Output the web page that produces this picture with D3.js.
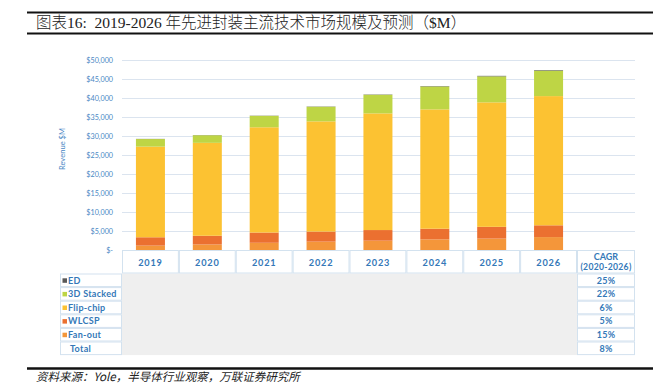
<!DOCTYPE html>
<html>
<head>
<meta charset="utf-8">
<script src="https://cdn.jsdelivr.net/npm/d3@7"></script>
<style>
body { margin: 0; background: #fff; }
svg { display: block; }
</style>
</head>
<body>
<div id="chart"></div>
<script>
// values ($M)
var years = ["2019", "2020", "2021", "2022", "2023", "2024", "2025", "2026"];
var seriesNames = ["ED", "3D Stacked", "Flip-chip", "WLCSP", "Fan-out"];
var fanOut   = [1150, 1450, 1900, 2200, 2450, 2800, 3000, 3400];
var wlcsp    = [2200, 2300, 2700, 2650, 2800, 2800, 3100, 3100];
var flipChip = [23850, 24450, 27700, 29000, 30700, 31400, 32750, 34000];
var stacked3d = [2000, 2000, 3000, 3850, 4900, 6050, 6850, 6700];
var ed       = [40, 45, 55, 65, 80, 100, 130, 150];
var cagr     = ["25%", "22%", "6%", "5%", "15%", "8%"];
var tickValues = [0, 5000, 10000, 15000, 20000, 25000, 30000, 35000, 40000, 45000, 50000];

var colors = {
  "ED": "#595959",
  "3D Stacked": "#bed545",
  "Flip-chip": "#fcc232",
  "WLCSP": "#eb7030",
  "Fan-out": "#f4963a"
};
var blue = "#3478b8";
var cellLine = "#d3e2ef";
var tf = "Lato, sans-serif";

var W = 653, H = 391;
var svg = d3.select("#chart").append("svg").attr("width", W).attr("height", H);

// title block
svg.append("line").attr("x1", 27).attr("x2", W).attr("y1", 12.5).attr("y2", 12.5)
  .attr("stroke", "#111").attr("stroke-width", 2);
svg.append("line").attr("x1", 27).attr("x2", W).attr("y1", 33.5).attr("y2", 33.5)
  .attr("stroke", "#111").attr("stroke-width", 2);
svg.append("text").attr("x", 36).attr("y", 28)
  .attr("font-family", "'Liberation Serif', 'Noto Sans CJK SC', serif")
  .attr("font-size", 15.5).attr("font-weight", 300).attr("fill", "#222")
  .attr("xml:space", "preserve")
  .text("图表16:  2019-2026 年先进封装主流技术市场规模及预测（$M）");

// table rows from the data
var rows = seriesNames.concat(["Total"]);

var table = years.map(function(y, i) {
  return { year: y, "Fan-out": fanOut[i], "WLCSP": wlcsp[i], "Flip-chip": flipChip[i],
           "3D Stacked": stacked3d[i], "ED": ed[i] };
});

var x = d3.scaleBand().domain(years).range([122, 577]).paddingInner(0.49).paddingOuter(0.245);
var y = d3.scaleLinear().domain([0, 50000]).range([250, 60]);

// grid
svg.append("g").selectAll("line").data(tickValues.slice(1)).enter().append("line")
  .attr("x1", 122).attr("x2", 635)
  .attr("y1", function(d) { return y(d) + 0.5; })
  .attr("y2", function(d) { return y(d) + 0.5; })
  .attr("stroke", "#dbe4ef").attr("stroke-width", 1);

// y axis
var yAxis = d3.axisLeft(y).tickValues(tickValues).tickSize(0).tickPadding(0)
  .tickFormat(function(d) { return d === 0 ? "$-" : "$" + d3.format(",")(d); });
var ga = svg.append("g").attr("transform", "translate(113,0)").call(yAxis);
ga.select(".domain").remove();
ga.selectAll("text").attr("font-family", tf).attr("font-size", 7.2)
  .attr("fill", "#4a88c4").attr("dy", "0.32em");

svg.append("text").attr("transform", "translate(64.5,149) rotate(-90)")
  .attr("text-anchor", "middle").attr("font-family", tf)
  .attr("font-size", 7.6).attr("fill", "#4a88c4").text("Revenue $M");

// stacked bars
var stack = d3.stack().keys(["Fan-out", "WLCSP", "Flip-chip", "3D Stacked", "ED"]);
var layers = stack(table);

svg.append("g").selectAll("g").data(layers).enter().append("g")
  .attr("fill", function(d) { return colors[d.key]; })
  .selectAll("rect").data(function(d) { return d; }).enter().append("rect")
  .attr("x", function(d) { return x(d.data.year); })
  .attr("width", x.bandwidth())
  .attr("y", function(d) { return y(d[1]); })
  .attr("height", function(d) { return y(d[0]) - y(d[1]); });

// table under the chart
var colW = x.step();
var headTop = 250, headH = 23.5, rowH = 13.6;
var bodyTop = headTop + headH;

svg.append("rect").attr("x", 122).attr("y", bodyTop)
  .attr("width", 577 - 122).attr("height", rowH * rows.length)
  .attr("fill", "#efefef");

var heads = svg.append("g");
years.forEach(function(yr) {
  var x0 = x(yr) - x.step() * x.paddingInner() / 2;
  heads.append("rect").attr("x", x0 + 0.5).attr("y", headTop + 0.5)
    .attr("width", colW - 1).attr("height", headH - 1)
    .attr("fill", "#fff").attr("stroke", cellLine);
  heads.append("text").attr("x", x(yr) + x.bandwidth() / 2).attr("y", headTop + 15.5)
    .attr("text-anchor", "middle").attr("font-family", tf)
    .attr("font-weight", "bold").attr("font-size", 9.2).attr("letter-spacing", 0.8)
    .attr("fill", blue).text(yr);
});

// CAGR column
heads.append("rect").attr("x", 577.5).attr("y", headTop + 0.5)
  .attr("width", 57).attr("height", headH - 1).attr("fill", "#fff").attr("stroke", cellLine);
heads.append("text").attr("x", 606).attr("y", headTop + 10)
  .attr("text-anchor", "middle").attr("font-family", tf)
  .attr("font-weight", "bold").attr("font-size", 9).attr("fill", blue).text("CAGR");
heads.append("text").attr("x", 606).attr("y", headTop + 20)
  .attr("text-anchor", "middle").attr("font-family", tf)
  .attr("font-weight", "bold").attr("font-size", 8.6).attr("letter-spacing", 0.3)
  .attr("fill", blue).text("(2020-2026)");

var rowG = svg.append("g").selectAll("g").data(rows).enter().append("g")
  .attr("transform", function(d, i) { return "translate(0," + (bodyTop + i * rowH) + ")"; });

rowG.append("rect").attr("x", 60.5).attr("y", 0.5).attr("width", 61).attr("height", rowH - 1)
  .attr("fill", "#fff").attr("stroke", cellLine);
rowG.append("rect").attr("x", 577.5).attr("y", 0.5).attr("width", 57).attr("height", rowH - 1)
  .attr("fill", "#fff").attr("stroke", cellLine);

rowG.filter(function(d) { return d !== "Total"; }).append("rect")
  .attr("x", 62.5).attr("y", rowH / 2 - 2).attr("width", 4.5).attr("height", 4.5)
  .attr("fill", function(d) { return colors[d]; });

rowG.append("text")
  .attr("x", function(d) { return d === "Total" ? 70 : 68 })
  .attr("y", rowH / 2 + 3.3)
  .attr("font-family", tf).attr("font-weight", "bold")
  .attr("font-size", 9).attr("letter-spacing", 0.3).attr("fill", blue)
  .text(function(d) { return d; });

rowG.append("text").attr("x", 606).attr("y", rowH / 2 + 3.3)
  .attr("text-anchor", "middle").attr("font-family", tf)
  .attr("font-weight", "bold").attr("font-size", 9).attr("letter-spacing", 0.3)
  .attr("fill", blue)
  .text(function(d, i) { return cagr[i]; });

// footer
svg.append("line").attr("x1", 27).attr("x2", W).attr("y1", 368.5).attr("y2", 368.5)
  .attr("stroke", "#111").attr("stroke-width", 2.5);
svg.append("text").attr("x", 36).attr("y", 381)
  .attr("font-family", "'Noto Sans CJK SC', sans-serif").attr("font-style", "italic")
  .attr("font-size", 11.5).attr("fill", "#222")
  .text("资料来源：Yole，半导体行业观察，万联证券研究所");
</script>
</body>
</html>
